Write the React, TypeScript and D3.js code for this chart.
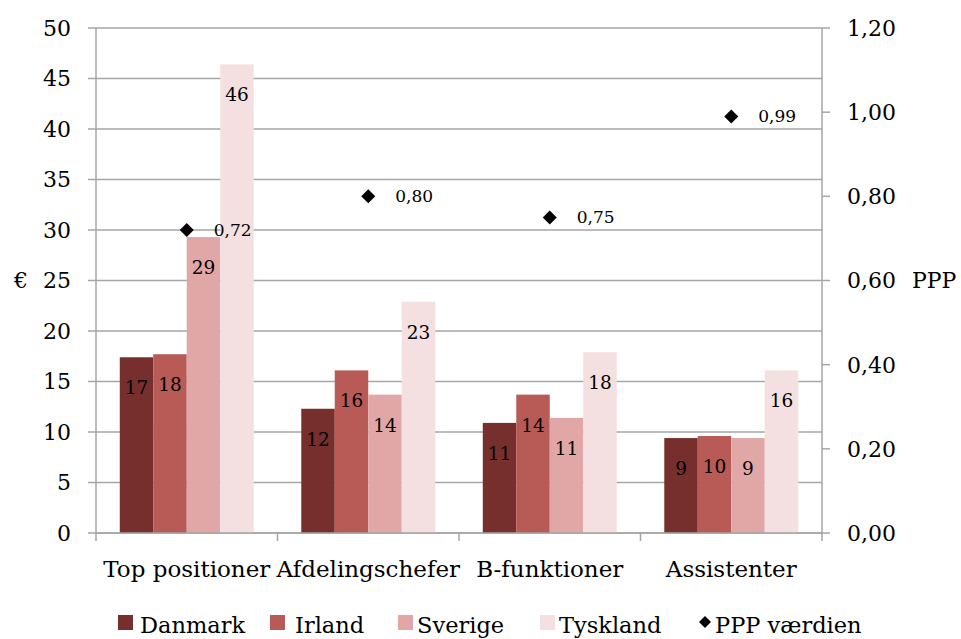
import React from "react";
import * as d3 from "d3";

const categories = ["Top positioner", "Afdelingschefer", "B-funktioner", "Assistenter"];
const seriesNames = ["Danmark", "Irland", "Sverige", "Tyskland"];
const danmark = [17.4, 12.3, 10.9, 9.4];
const irland = [17.7, 16.1, 13.7, 9.6];
const sverige = [29.3, 13.7, 11.4, 9.4];
const tyskland = [46.4, 22.9, 17.9, 16.1];
const pppValues = [0.72, 0.8, 0.75, 0.99];
const pppName = "PPP værdien";
const leftTicks = [0, 5, 10, 15, 20, 25, 30, 35, 40, 45, 50];
const rightTicks = [0, 0.2, 0.4, 0.6, 0.8, 1.0, 1.2];

const colors = ["#772F2E", "#B85A55", "#E1A7A6", "#F4E0E0"];
const FONT = "DejaVu Serif";

export default function App() {
  const W = 961, H = 639;
  const left = 96, right = 822, top = 28, bottom = 533;
  const series = [danmark, irland, sverige, tyskland];

  const x0 = d3.scaleBand<string>().domain(categories).range([left, right]).paddingInner(0.262).paddingOuter(0.131);
  const xCat = d3.scaleBand<string>().domain(categories).range([left, right]);
  const x1 = d3.scaleBand<string>().domain(seriesNames).range([0, x0.bandwidth()]);
  const yL = d3.scaleLinear().domain([0, 50]).range([bottom, top]);
  const yR = d3.scaleLinear().domain([0, 1.2]).range([bottom, top]);
  const fmtR = (v: number) => d3.format(".2f")(v).replace(".", ",");
  const grid = "#A6A6A6";
  const legendSq = [118, 270, 398, 540];
  const legendTx = [140, 295, 417, 559];
  const legY = 633;

  return (
    <svg width={W} height={H} style={{ position: "absolute", left: 0, top: 0, background: "#fff" }} fontFamily={FONT}>
      {leftTicks.map((t) => (
        <line key={"g" + t} x1={left} x2={right} y1={yL(t)} y2={yL(t)} stroke={grid} strokeWidth={1.5} />
      ))}
      {categories.map((c, ci) => (
        <g key={c}>
          {series.map((s, si) => {
            const x = (x0(c) as number) + (x1(seriesNames[si]) as number);
            const y = yL(s[ci]);
            return (
              <g key={si}>
                <rect x={x} y={y} width={x1.bandwidth()} height={bottom - y} fill={colors[si]} />
                <text x={x + x1.bandwidth() / 2} y={y + 37} textAnchor="middle" fontSize={18.5} fill="#000">
                  {Math.round(s[ci])}
                </text>
              </g>
            );
          })}
        </g>
      ))}
      <line x1={left} x2={left} y1={top} y2={bottom} stroke={grid} strokeWidth={1.5} />
      <line x1={right} x2={right} y1={top} y2={bottom + 8} stroke={grid} strokeWidth={1.5} />
      <line x1={left} x2={right} y1={bottom} y2={bottom} stroke={grid} strokeWidth={1.5} />
      {leftTicks.map((t) => (
        <g key={"l" + t}>
          <line x1={left - 8} x2={left} y1={yL(t)} y2={yL(t)} stroke={grid} strokeWidth={1.5} />
          <text x={71} y={yL(t)} dy="0.36em" textAnchor="end" fontSize={22}>{t}</text>
        </g>
      ))}
      {rightTicks.map((t) => (
        <g key={"r" + t}>
          <line x1={right} x2={right + 8} y1={yR(t)} y2={yR(t)} stroke={grid} strokeWidth={1.5} />
          <text x={847} y={yR(t)} dy="0.36em" textAnchor="start" fontSize={22}>{fmtR(t)}</text>
        </g>
      ))}
      {categories.map((c, i) => (
        <line key={"ct" + i} x1={xCat(c) as number} x2={xCat(c) as number} y1={bottom} y2={bottom + 8} stroke={grid} strokeWidth={1.5} />
      ))}
      <text x={14} y={yL(25)} dy="0.36em" fontSize={22}>€</text>
      <text x={912} y={yR(0.6)} dy="0.36em" fontSize={22}>PPP</text>
      {categories.map((c) => (
        <text key={"cl" + c} x={(xCat(c) as number) + xCat.bandwidth() / 2} y={577} textAnchor="middle" fontSize={23}>{c}</text>
      ))}
      {categories.map((c, i) => {
        const cx = (xCat(c) as number) + xCat.bandwidth() / 2;
        const cy = yR(pppValues[i]);
        return (
          <g key={"p" + c}>
            <path d={`M${cx},${cy - 7}L${cx + 7},${cy}L${cx},${cy + 7}L${cx - 7},${cy}Z`} fill="#000" />
            <text x={cx + 27} y={cy} dy="0.36em" fontSize={17}>{fmtR(pppValues[i])}</text>
          </g>
        );
      })}
      {seriesNames.map((n, i) => (
        <g key={"lg" + n}>
          <rect x={legendSq[i]} y={legY - 18} width={15} height={15} fill={colors[i]} />
          <text x={legendTx[i]} y={legY} fontSize={22.5}>{n}</text>
        </g>
      ))}
      <path d={`M705,${legY - 17}L711,${legY - 11}L705,${legY - 5}L699,${legY - 11}Z`} fill="#000" />
      <text x={715} y={legY} fontSize={22.5}>{pppName}</text>
    </svg>
  );
}
